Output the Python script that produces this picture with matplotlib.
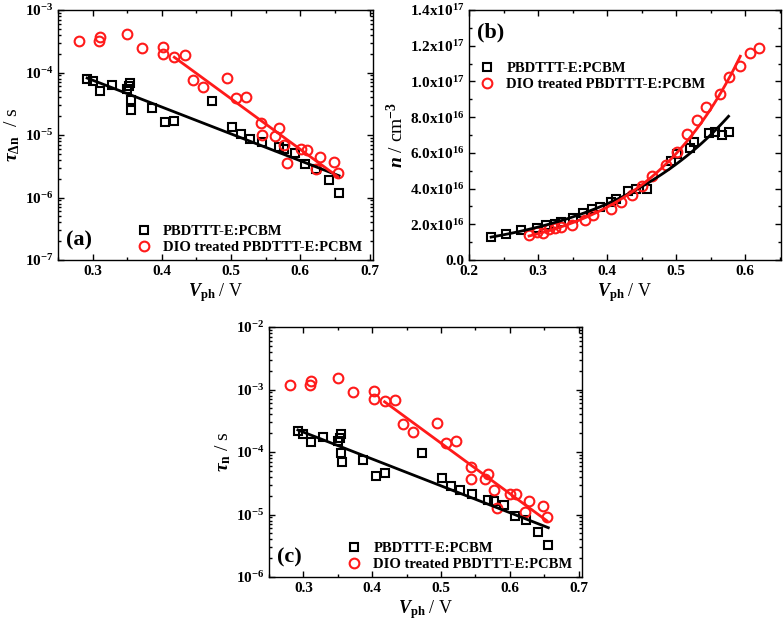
import numpy as np
import matplotlib
matplotlib.use("Agg")
import matplotlib.pyplot as plt
from matplotlib.ticker import FixedLocator, FixedFormatter, LogLocator, NullFormatter, MultipleLocator

plt.rcParams['font.family'] = ['Liberation Serif', 'DejaVu Serif']
plt.rcParams['font.weight'] = 'bold'
plt.rcParams['mathtext.fontset'] = 'custom'
plt.rcParams['mathtext.rm'] = 'Liberation Serif:bold'
plt.rcParams['mathtext.it'] = 'Liberation Serif:italic:bold'
plt.rcParams['mathtext.bf'] = 'Liberation Serif:bold'

# ---------------- data ----------------
label_black = 'PBDTTT-E:PCBM'
label_red = 'DIO treated PBDTTT-E:PCBM'

# shared photovoltage values for panels (a) and (c)
v_black = [0.292, 0.300, 0.311, 0.328, 0.350, 0.353, 0.354, 0.355, 0.356, 0.386, 0.405, 0.418,
           0.473, 0.501, 0.514, 0.528, 0.545, 0.569, 0.577, 0.592, 0.607, 0.623, 0.641, 0.656]
v_red = [0.280, 0.309, 0.311, 0.350, 0.372, 0.402, 0.402, 0.418, 0.433, 0.445, 0.460, 0.494, 0.507,
         0.522, 0.543, 0.544, 0.564, 0.569, 0.577, 0.581, 0.601, 0.609, 0.622, 0.628, 0.649, 0.654]

# panel (a): small perturbation lifetime tau_dn (s)
tau_dn_black = [7.9e-5, 7.2e-5, 5.1e-5, 6.2e-5, 5.4e-5, 6.1e-5, 6.8e-5, 3.6e-5, 2.5e-5, 2.7e-5, 1.6e-5, 1.7e-5,
                3.5e-5, 1.36e-5, 1.03e-5, 8.7e-6, 7.7e-6, 6.4e-6, 6.0e-6, 5.1e-6, 3.4e-6, 2.9e-6, 1.9e-6, 1.17e-6]
tau_dn_red = [3.2e-4, 3.2e-4, 3.7e-4, 4.2e-4, 2.5e-4, 2.6e-4, 2.0e-4, 1.8e-4, 1.9e-4, 7.6e-5, 5.8e-5, 8.1e-5, 3.9e-5,
              4.1e-5, 1.54e-5, 1.01e-5, 9.7e-6, 1.28e-5, 6.9e-6, 3.5e-6, 6.0e-6, 5.8e-6, 2.9e-6, 4.4e-6, 3.7e-6, 2.5e-6]

# panel (c): total carrier lifetime tau_n (s)
tau_n_black = [2.2e-4, 1.94e-4, 1.43e-4, 1.76e-4, 1.52e-4, 1.68e-4, 1.92e-4, 9.6e-5, 6.9e-5, 7.5e-5, 4.2e-5, 4.6e-5,
               9.6e-5, 3.8e-5, 2.83e-5, 2.44e-5, 2.15e-5, 1.73e-5, 1.66e-5, 1.44e-5, 9.5e-6, 8.1e-6, 5.2e-6, 3.2e-6]
tau_n_red = [1.18e-3, 1.19e-3, 1.35e-3, 1.51e-3, 9.0e-4, 9.6e-4, 7.1e-4, 6.6e-4, 6.9e-4, 2.8e-4, 2.1e-4, 2.9e-4, 1.39e-4,
             1.52e-4, 5.7e-5, 3.7e-5, 3.66e-5, 4.5e-5, 2.5e-5, 1.27e-5, 2.15e-5, 2.13e-5, 1.11e-5, 1.63e-5, 1.37e-5, 9.1e-6]

# panel (b): carrier density n (cm^-3)
vb_black = [0.232, 0.254, 0.275, 0.298, 0.312, 0.325, 0.334, 0.351, 0.365, 0.378, 0.390, 0.405, 0.413,
            0.431, 0.442, 0.458, 0.493, 0.502, 0.520, 0.526, 0.548, 0.556, 0.566, 0.576]
n_black = [1.27e16, 1.44e16, 1.68e16, 1.81e16, 1.94e16, 2.02e16, 2.15e16, 2.33e16, 2.61e16, 2.84e16, 2.99e16,
           3.27e16, 3.42e16, 3.86e16, 3.96e16, 3.96e16, 5.56e16, 5.94e16, 6.25e16, 6.59e16, 7.09e16, 7.15e16,
           7.0e16, 7.19e16]
vb_red = [0.287, 0.299, 0.307, 0.316, 0.325, 0.334, 0.349, 0.368, 0.380, 0.406, 0.420, 0.436, 0.451, 0.465,
          0.485, 0.501, 0.516, 0.530, 0.544, 0.564, 0.577, 0.593, 0.607, 0.620]
n_red = [1.40e16, 1.59e16, 1.49e16, 1.72e16, 1.81e16, 1.87e16, 1.96e16, 2.24e16, 2.52e16, 2.87e16, 3.27e16,
         3.64e16, 4.16e16, 4.70e16, 5.32e16, 6.07e16, 7.04e16, 7.84e16, 8.59e16, 9.28e16, 1.023e17, 1.086e17,
         1.157e17, 1.185e17]

# fit ranges (V)
fit_red_log_start = 0.41
fit_red_n_end = 0.595

nticks_b = [0, 2e16, 4e16, 6e16, 8e16, 1.0e17, 1.2e17, 1.4e17]
nlabels_b = ['0.0', '2.0x10$^{16}$', '4.0x10$^{16}$', '6.0x10$^{16}$', '8.0x10$^{16}$',
             '1.0x10$^{17}$', '1.2x10$^{17}$', '1.4x10$^{17}$']

BLACK = '#000000'
RED = '#ff1a1a'
W, H = 784, 626
fig = plt.figure(figsize=(W / 100, H / 100), dpi=100)


def add_ax(l, r, t, b):
    return fig.add_axes([l / W, 1 - b / H, (r - l) / W, (b - t) / H])


def style(ax):
    ax.tick_params(which='both', direction='in', top=True, right=True, labelsize=11, width=1.0)
    ax.tick_params(which='major', length=4)
    ax.tick_params(which='minor', length=2)
    for s in ax.spines.values():
        s.set_linewidth(1.0)
    for lab in ax.get_xticklabels() + ax.get_yticklabels():
        lab.set_fontweight('bold')


def logfit(x, y, xmin=None, xmax=None):
    x = np.asarray(x); y = np.asarray(y)
    m = np.ones_like(x, dtype=bool)
    if xmin is not None:
        m &= x >= xmin
    if xmax is not None:
        m &= x <= xmax
    p = np.polyfit(x[m], np.log(y[m]), 1)
    xs = np.linspace(x[m].min(), x[m].max(), 100)
    return xs, np.exp(np.polyval(p, xs))


mk_sq = dict(marker='s', ls='none', mfc='none', mec=BLACK, ms=6, mew=1.5)
mk_ci = dict(marker='o', ls='none', mfc='none', mec=RED, ms=7, mew=1.5)
leg_kw = dict(frameon=False, prop={'weight': 'bold', 'size': 10.5}, handletextpad=0.8, labelspacing=0.2,
              handlelength=1.0, borderaxespad=0.0, borderpad=0.2)


def log_panel(ax, yb, yr, ylabel, ylim, tag):
    ax.plot(v_black, yb, label=label_black, **mk_sq)
    ax.plot(v_red, yr, label=label_red, **mk_ci)
    xs, ys = logfit(v_black, yb)
    ax.plot(xs, ys, color=BLACK, lw=2.0)
    xs, ys = logfit(v_red, yr, xmin=fit_red_log_start)
    ax.plot(xs, ys, color=RED, lw=2.0)
    ax.set_yscale('log')
    ax.set_ylim(*ylim)
    ax.set_xlim(0.25, 0.705)
    ax.xaxis.set_major_locator(MultipleLocator(0.1))
    ax.xaxis.set_minor_locator(MultipleLocator(0.05))
    ax.yaxis.set_major_locator(LogLocator(base=10, numticks=10))
    ax.yaxis.set_minor_locator(LogLocator(base=10, subs=np.arange(2, 10), numticks=20))
    ax.yaxis.set_minor_formatter(NullFormatter())
    ax.set_xlabel(r'$V_{\mathrm{ph}}$ / V', fontsize=13, labelpad=2)
    ax.set_ylabel(ylabel, fontsize=14, labelpad=2)
    style(ax)
    ax.text(0.025, 0.08, tag, transform=ax.transAxes, fontsize=16, fontweight='bold', va='center')
    ax.legend(loc='lower left', bbox_to_anchor=(0.24, 0.012), **leg_kw)


# panel (a)
axa = add_ax(58, 373, 10, 260)
log_panel(axa, tau_dn_black, tau_dn_red, r'$\tau_{\Delta\mathrm{n}}$  / s', (1e-7, 1e-3), '(a)')

# panel (c)
axc = add_ax(269, 582, 327, 577)
log_panel(axc, tau_n_black, tau_n_red, r'$\tau_{\mathrm{n}}$ / s', (1e-6, 1e-2), '(c)')

# panel (b)
axb = add_ax(469, 781, 10, 260)
axb.plot(vb_black, n_black, label=label_black, **mk_sq)
axb.plot(vb_red, n_red, label=label_red, **mk_ci)
xs, ys = logfit(vb_black, n_black)
axb.plot(xs, ys, color=BLACK, lw=2.0)
xs, ys = logfit(vb_red, n_red, xmax=fit_red_n_end)
axb.plot(xs, ys, color=RED, lw=2.0)
axb.set_xlim(0.2, 0.652)
axb.set_ylim(0, 1.4e17)
axb.xaxis.set_major_locator(MultipleLocator(0.1))
axb.xaxis.set_minor_locator(MultipleLocator(0.05))
axb.yaxis.set_major_locator(FixedLocator(nticks_b))
axb.yaxis.set_major_formatter(FixedFormatter(nlabels_b))
axb.yaxis.set_minor_locator(MultipleLocator(1e16))
axb.set_xlabel(r'$V_{\mathrm{ph}}$ / V', fontsize=13, labelpad=2)
axb.set_ylabel(r'$n$ / cm$^{-3}$', fontsize=14, labelpad=2)
style(axb)
axb.text(0.025, 0.91, '(b)', transform=axb.transAxes, fontsize=16, fontweight='bold', va='center')
axb.legend(loc='upper left', bbox_to_anchor=(0.026, 0.804), **leg_kw)

fig.savefig('out.png', dpi=100)
